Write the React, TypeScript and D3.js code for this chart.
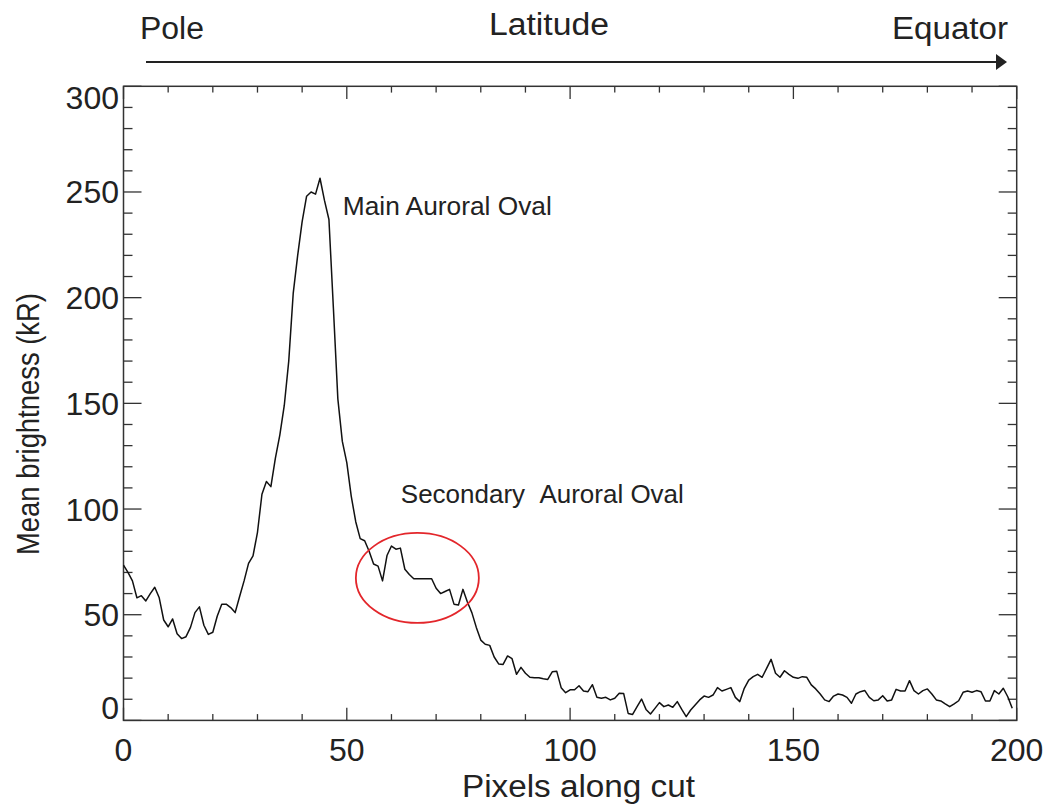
import React from "react";
import * as d3 from "d3";

// Mean brightness (kR) for each pixel along the cut (0..199)
const brightness: number[] = [
  73.5, 70, 66, 58, 59, 56.5, 60, 63, 58, 47.5,
  44.3, 48, 41, 38.7, 39.6, 44, 51, 53.7, 45, 40.7,
  41.7, 49.4, 55, 55, 53.4, 51, 58.6, 66, 74.3, 77.8,
  89, 107, 113, 110.6, 124, 135, 149, 170, 202, 220,
  236, 248, 250, 249, 256.5, 246, 237, 195, 152, 132,
  122, 106, 94, 86, 85, 80, 74, 73, 66, 78,
  82.5, 81, 81.5, 71.5, 69, 67, 67, 67, 67, 67,
  62.5, 60, 61, 62, 55, 54.6, 62, 56, 51, 44,
  38, 36, 35.5, 30, 26.7, 26.5, 30.5, 29.2, 21.8, 25.1,
  22.3, 20.4, 20.2, 20.2, 19.7, 19.4, 23, 23.3, 15.5, 13.1,
  14.5, 14.5, 16.4, 13.9, 13.6, 16.9, 10.9, 10.5, 10.9, 9.7,
  10.5, 12.8, 12.7, 3.3, 2.8, 6.5, 10.1, 5.2, 3, 5.7,
  8.4, 6.5, 7.3, 6.2, 8.9, 5.2, 1.8, 4.9, 7.3, 9.7,
  11.5, 10.9, 12, 15.5, 13.9, 14.7, 15.5, 10.9, 8.9, 15.2,
  19.1, 20.7, 21.8, 20.4, 24.6, 28.9, 22.3, 20.4, 23.5, 21.8,
  20.4, 19.9, 20.7, 20.4, 16.8, 14.9, 12.5, 9.7, 8.9, 11.5,
  12.5, 12, 10.9, 8.1, 12.5, 13.6, 14.1, 10.9, 9.3, 9.7,
  11.7, 9.2, 9.7, 14.7, 13.9, 13.9, 18.8, 14.1, 12.5, 14.1,
  14.9, 12.5, 9.7, 9.2, 7.8, 6.5, 7.8, 9.3, 13.3, 13.9,
  13.3, 14.1, 13.6, 9.2, 9.2, 14.1, 12.5, 15.2, 11.2, 5.7,
];

const xMajorTicks = [0, 50, 100, 150, 200];
const yMajorTicks = [0, 50, 100, 150, 200, 250, 300];
const xTitle = "Pixels along cut";
const yTitle = "Mean brightness (kR)";
const topLabels = ["Pole", "Latitude", "Equator"];
const mainLabel = "Main Auroral Oval";
const secondaryLabel = "Secondary\u00a0\u00a0Auroral Oval";

const W = 1053;
const H = 809;
const L = 123.5, R = 1016.7, T = 86.3, B = 720.4;
const FONT = "'Liberation Sans', Arial, sans-serif";
const TXT = "#222";
const AX = "#333";

export default function App() {
  const x = d3.scaleLinear().domain([0, 200]).range([L, R]);
  const y = d3.scaleLinear().domain([0, 300]).range([B, T]);
  const line = d3
    .line<number>()
    .x((_, i) => x(i))
    .y((d) => y(d));

  const xMinor = d3.range(0, 201, 10).filter((v) => v % 50 !== 0);
  const yMinor = d3.range(0, 301, 10).filter((v) => v % 50 !== 0);
  const xMajLen = 12.7, xMinLen = 6.3, yMajLen = 18, yMinLen = 9;

  return (
    <svg
      width={W}
      height={H}
      style={{ position: "absolute", left: 0, top: 0, background: "#fff" }}
      fontFamily={FONT}
    >
      <rect x={0} y={0} width={W} height={H} fill="#fff" />
      {/* top annotation */}
      <text x={140} y={39} fontSize={31} fill={TXT} textLength={64} lengthAdjust="spacingAndGlyphs">
        {topLabels[0]}
      </text>
      <text x={489} y={35} fontSize={31} fill={TXT} textLength={120} lengthAdjust="spacingAndGlyphs">
        {topLabels[1]}
      </text>
      <text x={892} y={39} fontSize={31} fill={TXT} textLength={116} lengthAdjust="spacingAndGlyphs">
        {topLabels[2]}
      </text>
      <line x1={146} y1={62} x2={998} y2={62} stroke="#222" strokeWidth={2} />
      <path d="M996,54 L1007,62 L996,70 Z" fill="#222" />

      {/* axes box */}
      <rect x={L} y={T} width={R - L} height={B - T} fill="none" stroke={AX} strokeWidth={1.5} />

      {/* x ticks */}
      {xMajorTicks.map((v) => (
        <g key={"xM" + v}>
          <line x1={x(v)} x2={x(v)} y1={B} y2={B - xMajLen} stroke={AX} strokeWidth={1.3} />
          <line x1={x(v)} x2={x(v)} y1={T} y2={T + xMajLen} stroke={AX} strokeWidth={1.3} />
          <text x={x(v)} y={761} fontSize={32} fill={TXT} textAnchor="middle">
            {v}
          </text>
        </g>
      ))}
      {xMinor.map((v) => (
        <g key={"xm" + v}>
          <line x1={x(v)} x2={x(v)} y1={B} y2={B - xMinLen} stroke={AX} strokeWidth={1.3} />
          <line x1={x(v)} x2={x(v)} y1={T} y2={T + xMinLen} stroke={AX} strokeWidth={1.3} />
        </g>
      ))}

      {/* y ticks */}
      {yMajorTicks.map((v, i) => {
        let ty = y(v) + 11.5;
        if (i === 0) ty = y(v) - 1;
        if (i === yMajorTicks.length - 1) ty = y(v) + 23;
        return (
          <g key={"yM" + v}>
            <line x1={L} x2={L + yMajLen} y1={y(v)} y2={y(v)} stroke={AX} strokeWidth={1.3} />
            <line x1={R} x2={R - yMajLen} y1={y(v)} y2={y(v)} stroke={AX} strokeWidth={1.3} />
            <text x={119} y={ty} fontSize={32} fill={TXT} textAnchor="end">
              {v}
            </text>
          </g>
        );
      })}
      {yMinor.map((v) => (
        <g key={"ym" + v}>
          <line x1={L} x2={L + yMinLen} y1={y(v)} y2={y(v)} stroke={AX} strokeWidth={1.3} />
          <line x1={R} x2={R - yMinLen} y1={y(v)} y2={y(v)} stroke={AX} strokeWidth={1.3} />
        </g>
      ))}

      {/* titles */}
      <text x={462} y={797} fontSize={31} fill={TXT} textLength={233} lengthAdjust="spacingAndGlyphs">
        {xTitle}
      </text>
      <text
        transform={`translate(39,${555}) rotate(-90)`}
        fontSize={31}
        fill={TXT}
        textLength={262}
        lengthAdjust="spacingAndGlyphs"
      >
        {yTitle}
      </text>

      {/* data line */}
      <path d={line(brightness) || ""} fill="none" stroke="#111" strokeWidth={1.5} strokeLinejoin="round" />

      {/* annotations */}
      <text x={x(49.1)} y={y(239)} fontSize={25} fill={TXT} textLength={209} lengthAdjust="spacingAndGlyphs">
        {mainLabel}
      </text>
      <text x={x(62.1)} y={y(103)} fontSize={25} fill={TXT} textLength={283} lengthAdjust="spacingAndGlyphs">
        {secondaryLabel}
      </text>
      <ellipse
        cx={x(65.8)}
        cy={y(67.4)}
        rx={x(13.77) - x(0)}
        ry={y(0) - y(21.3)}
        fill="none"
        stroke="#e3262b"
        strokeWidth={1.8}
      />
    </svg>
  );
}
